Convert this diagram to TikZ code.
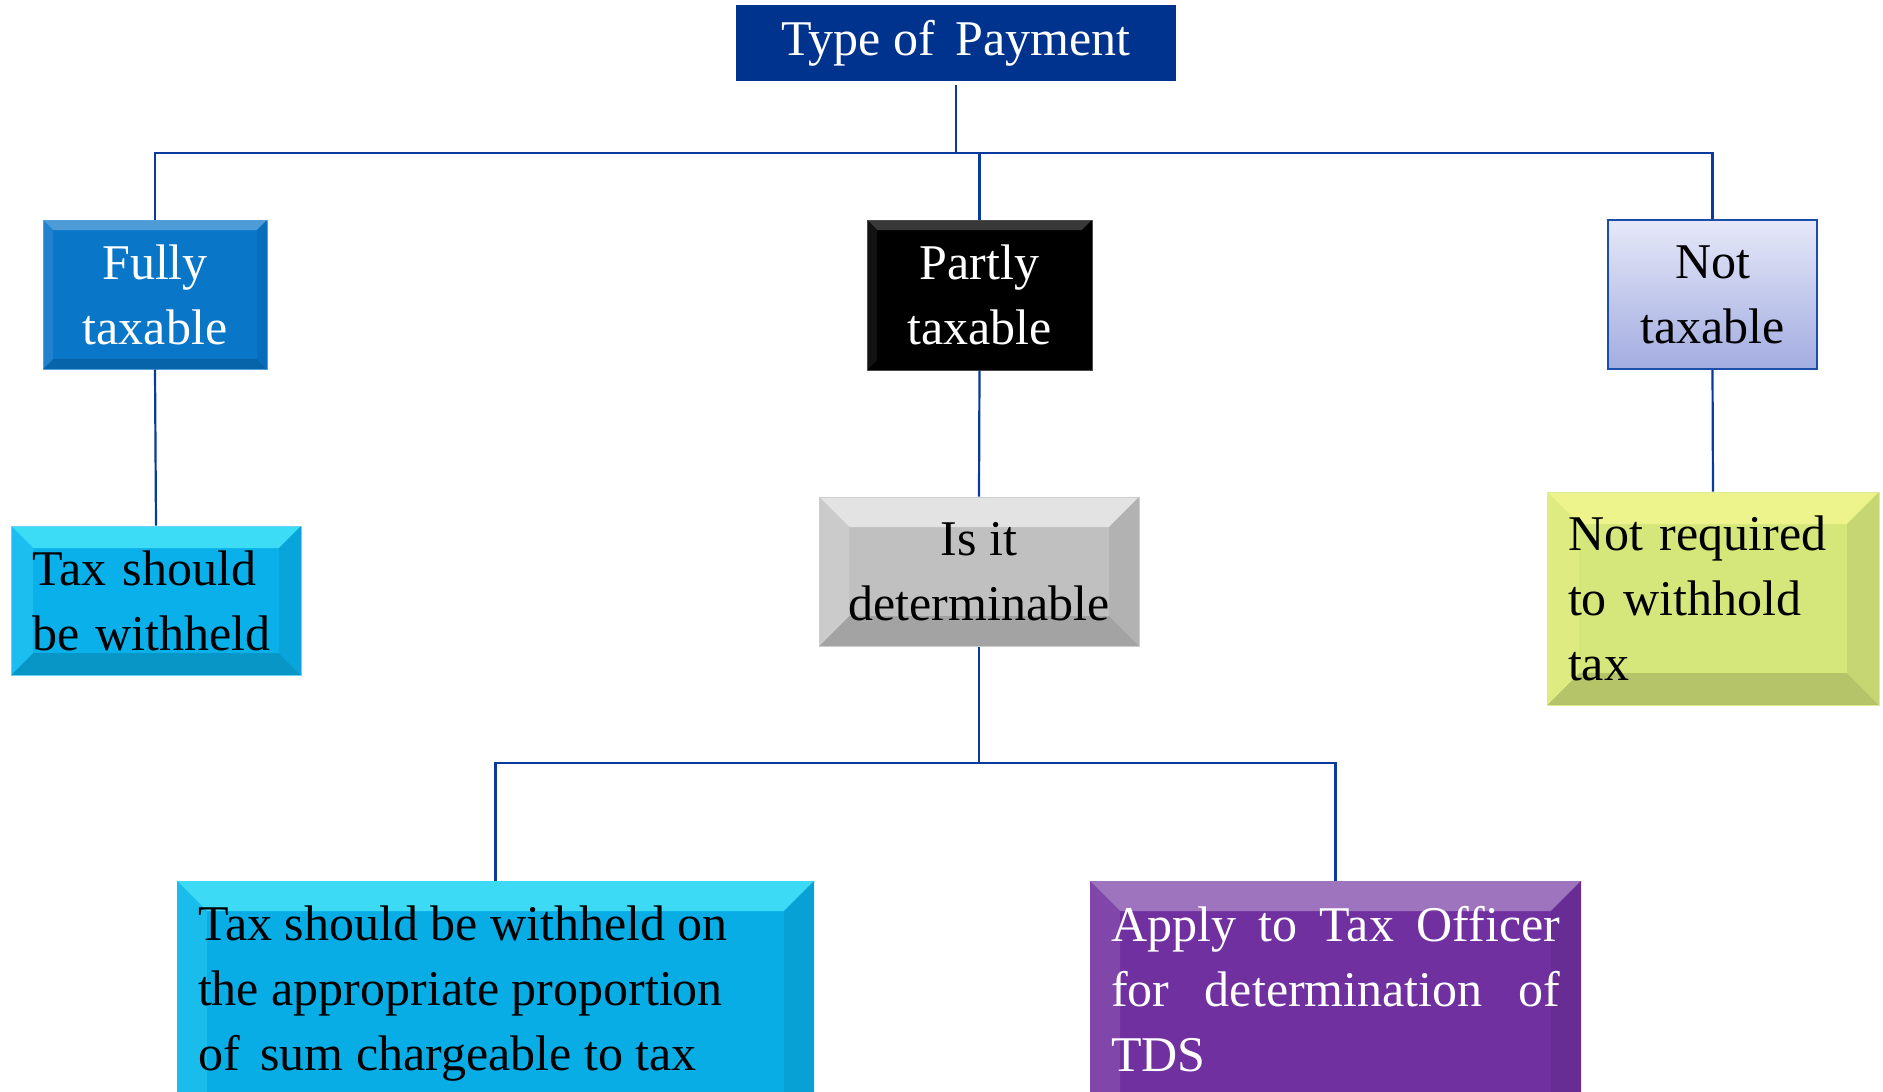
\documentclass[tikz,border=0pt]{standalone}
\usepackage{fontspec}
\setmainfont{Liberation Serif}
\usetikzlibrary{calc}
\definecolor{cTop}{HTML}{00338D}
\definecolor{cFully}{HTML}{0A76C8}
\definecolor{cPartly}{HTML}{000000}
\definecolor{cNtTop}{HTML}{E6E8F8}
\definecolor{cNtBot}{HTML}{A2ACE0}
\definecolor{cNtBorder}{HTML}{1B4DAA}
\definecolor{cTaxw}{HTML}{0AB0EA}
\definecolor{cIsit}{HTML}{C0C0C0}
\definecolor{cNotreq}{HTML}{D5E67B}
\definecolor{cBl}{HTML}{08ADE6}
\definecolor{cBr}{HTML}{7030A0}
\definecolor{linec}{HTML}{0A3A9E}
\tikzset{
  box/.style={rectangle, inner sep=0pt, font=\fontsize{50}{65}\selectfont, align=center},
  bevel/.style n args={3}{fill=#2, path picture={
    \colorlet{bvBase}{#2}\colorlet{bvLight}{#3}
    \fill[bvBase!45!bvLight] (path picture bounding box.north west) -- (path picture bounding box.north east)
      -- ([shift={(-#1,-#1)}]path picture bounding box.north east)
      -- ([shift={(#1,-#1)}]path picture bounding box.north west) -- cycle;
    \fill[bvBase!85!black] (path picture bounding box.south west) -- (path picture bounding box.south east)
      -- ([shift={(-#1,#1)}]path picture bounding box.south east)
      -- ([shift={(#1,#1)}]path picture bounding box.south west) -- cycle;
    \fill[bvBase!82!bvLight] (path picture bounding box.north west) -- (path picture bounding box.south west)
      -- ([shift={(#1,#1)}]path picture bounding box.south west)
      -- ([shift={(#1,-#1)}]path picture bounding box.north west) -- cycle;
    \fill[bvBase!93!black] (path picture bounding box.north east) -- (path picture bounding box.south east)
      -- ([shift={(-#1,#1)}]path picture bounding box.south east)
      -- ([shift={(-#1,-#1)}]path picture bounding box.north east) -- cycle;
  }},
  conn/.style={draw=linec, line width=2.2pt}
}
\begin{document}
\begin{tikzpicture}[x=1pt,y=-1pt]
\useasboundingbox (0,0) rectangle (1883,1092);
\clip (0,0) rectangle (1883,1092);
\fill[white] (0,0) rectangle (1883,1092);

\node[box, fill=cTop, text=white, minimum width=440pt, minimum height=76pt] (top) at (956,43) {Type of\, Payment};

\node[box, bevel={10pt}{cFully}{cFully!50!white}, draw=cFully!70!white, line width=1pt, text=white,
  minimum width=224pt, minimum height=149pt] (fully) at (155,294.5) {Fully\\taxable};
\node[box, bevel={10pt}{cPartly}{black!60!white}, draw=black!70!white, line width=1pt, text=white,
  minimum width=225pt, minimum height=150pt] (partly) at (979.5,295) {Partly\\taxable};
\node[box, top color=cNtTop, bottom color=cNtBot, draw=cNtBorder, line width=2pt,
  minimum width=209pt, minimum height=149pt] (nottax) at (1712.5,294.5) {Not\\taxable};

\node[box, bevel={22pt}{cTaxw}{cyan!60!white}, draw=cTaxw!60!white, line width=1pt, align=left,
  inner xsep=21pt, text width=248pt, minimum height=149pt] (taxw) at (156,600.5) {Tax should\\be withheld};
\node[box, bevel={30pt}{cIsit}{white}, draw=cIsit!80!white, line width=1pt,
  minimum width=320pt, minimum height=149pt] (isit) at (979,571.5) {Is it\\determinable};
\node[box, bevel={32pt}{cNotreq}{yellow!40!white}, draw=cNotreq!80!white, line width=1pt, align=left,
  inner xsep=21pt, text width=290pt, minimum height=213pt] (notreq) at (1713,598.5) {Not required\\to withhold\\tax};

\node[box, bevel={30pt}{cBl}{cyan!60!white}, anchor=north, inner xsep=21pt, inner ysep=25pt] (bl) at (495.5,881)
  {\parbox[t][250pt][t]{595pt}{\raggedright Tax should be withheld on\\the appropriate proportion\\of\, sum chargeable to tax}};
\node[box, bevel={30pt}{cBr}{cBr!40!white}, text=white, anchor=north, inner xsep=21pt, inner ysep=25pt] (br) at (1335.5,881)
  {\parbox[t][250pt][t]{449pt}{\raggedright\makebox[\linewidth][s]{Apply to Tax Officer}\\\makebox[\linewidth][s]{for determination of}\\TDS}};

\coordinate (j1) at (956,153);
\coordinate (j2) at (979,763);

\draw[conn] ([yshift=-4pt]top.south) -- (top.south |- j1);
\draw[conn] (fully.north) -- (fully.north |- j1) -- (nottax.north |- j1) -- (nottax.north);
\draw[conn] (partly.north |- j1) -- (partly.north);
\draw[conn] (fully.south) -- (taxw.north);
\draw[conn] (partly.south) -- (isit.north);
\draw[conn] (nottax.south) -- (notreq.north);
\draw[conn] (isit.south) -- (isit.south |- j2);
\draw[conn] (bl.north) -- (bl.north |- j2) -- (br.north |- j2) -- (br.north);
\end{tikzpicture}
\end{document}
